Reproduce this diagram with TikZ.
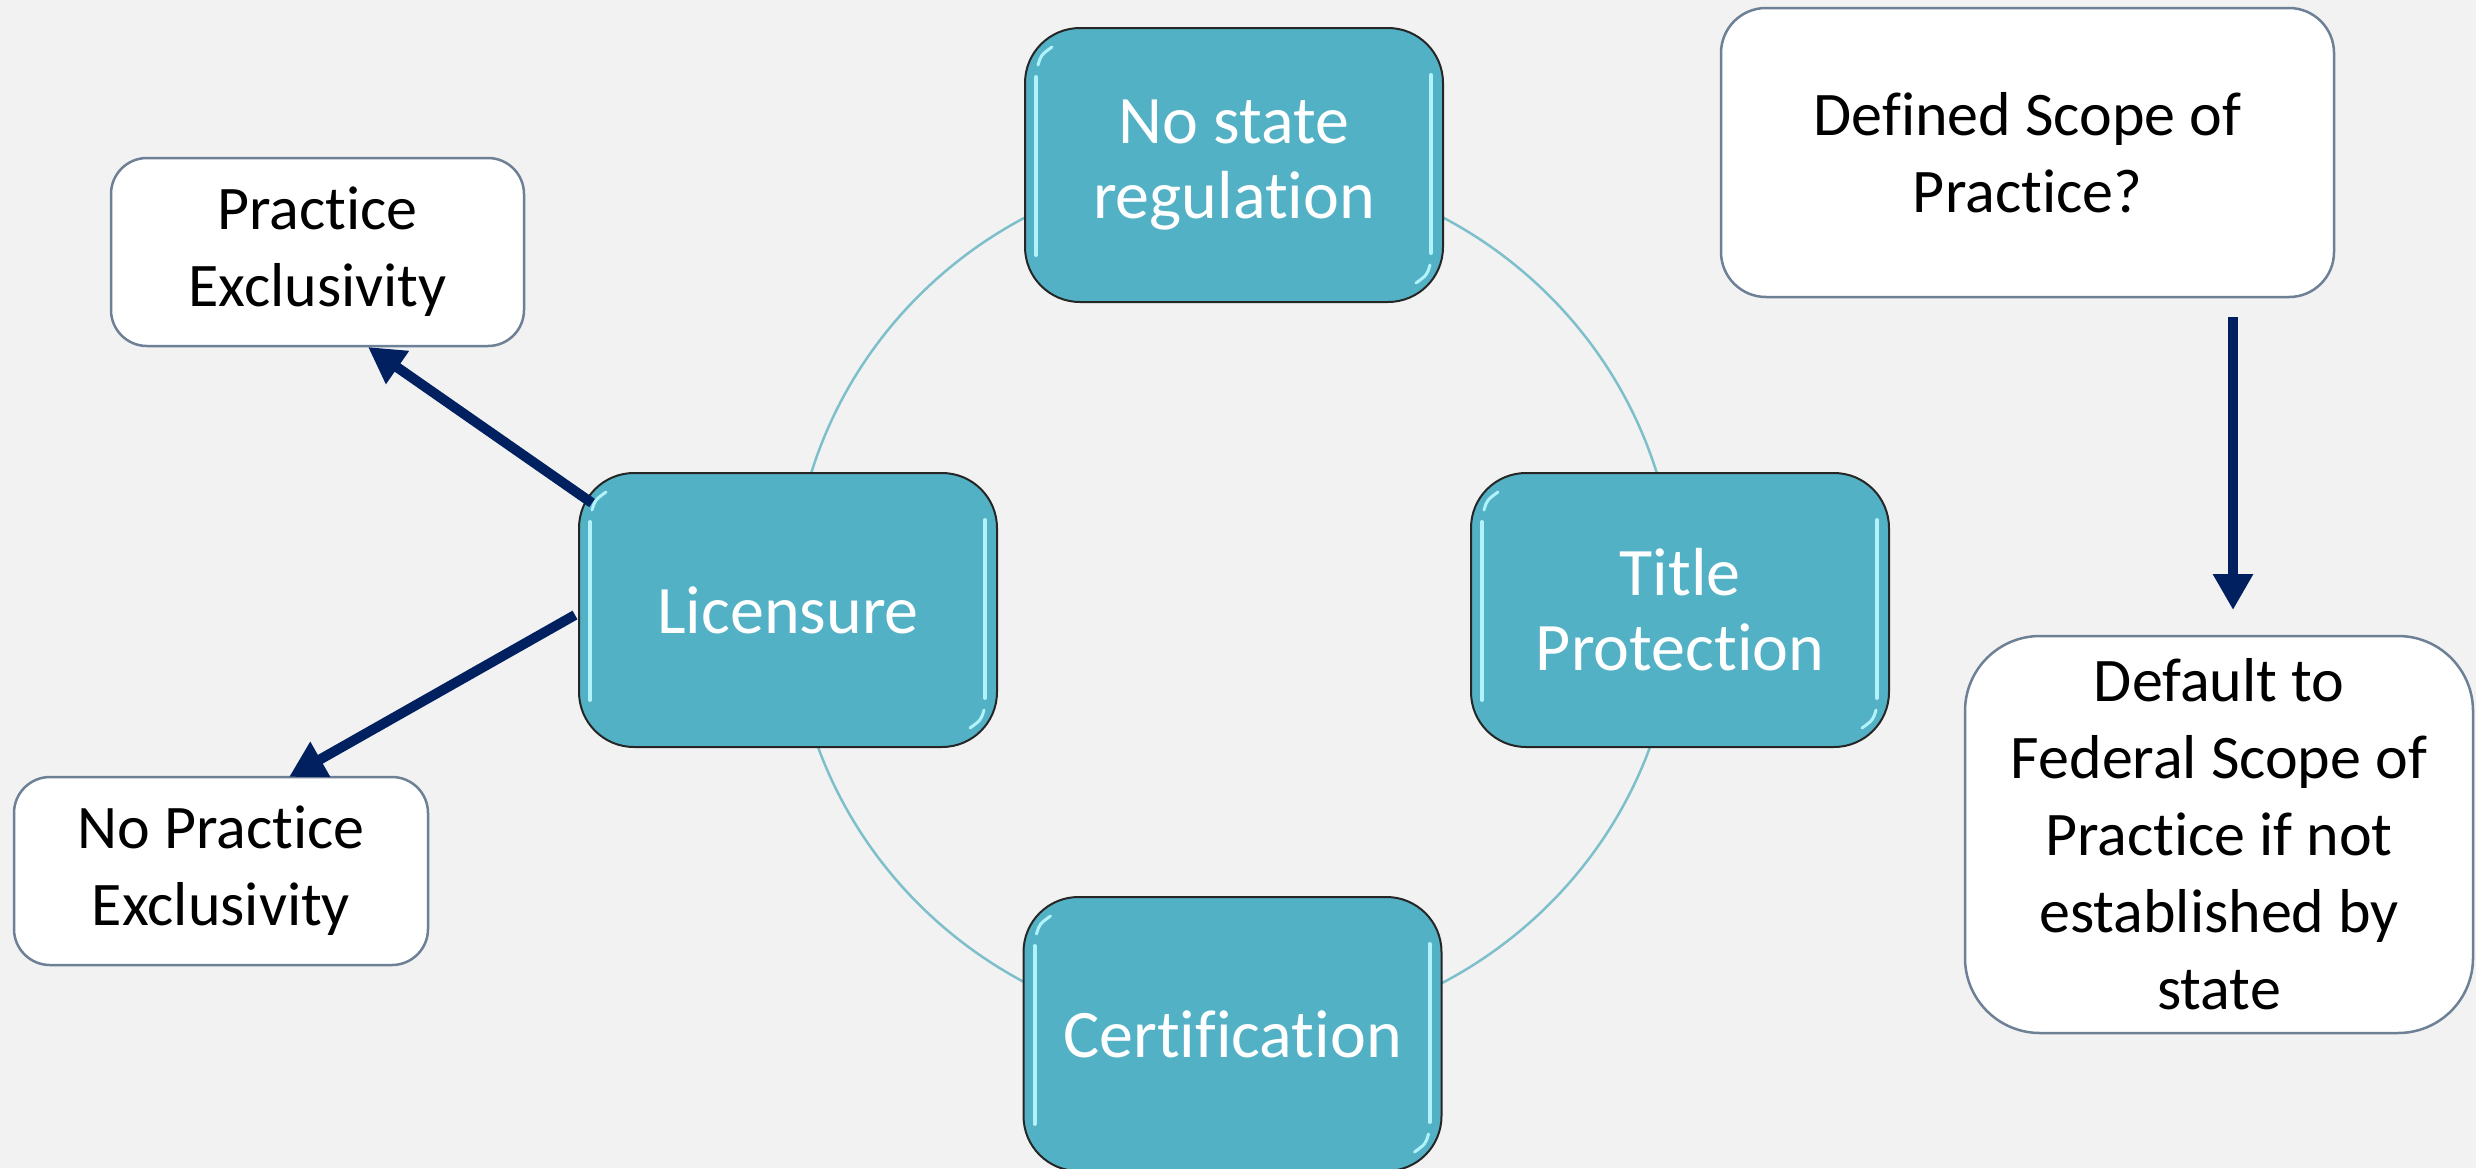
\documentclass[tikz,border=0pt]{standalone}
\usepackage{fontspec}
\setmainfont[Ligatures=NoCommon]{Carlito}
\usetikzlibrary{arrows.meta,calc}
\definecolor{bg}{HTML}{F2F2F2}
\definecolor{tealfill}{HTML}{53B1C5}
\definecolor{ring}{HTML}{7DBFCB}
\definecolor{navy}{HTML}{002060}
\definecolor{wborder}{HTML}{6E8096}
\definecolor{gloss}{HTML}{B2F2FA}
\begin{document}
\begin{tikzpicture}[x=1pt,y=-1pt,
  tealbox/.style={draw=black!85, line width=2pt, fill=tealfill, rounded corners=55pt,
    minimum width=418pt, minimum height=274pt, text=white, align=center,
    font=\fontsize{68}{75}\selectfont, inner sep=0pt},
  whitebox/.style={draw=wborder, line width=2.5pt, fill=white, align=center,
    font=\fontsize{62}{77}\selectfont, inner sep=0pt},
  arr/.style={draw=navy, line width=10pt, -{Triangle[width=38pt,length=36pt]}},
  glossline/.style={draw=gloss, line width=4pt, line cap=round}]
\fill[bg] (0,0) rectangle (2476,1168);
\useasboundingbox (0,0) rectangle (2476,1168);

% ring
\draw[ring, line width=2.5pt] (1234,600) ellipse [x radius=442, y radius=434];

% teal boxes
\node[tealbox] (nsr) at (1234,165) {No state\\regulation};
\node[tealbox] (lic) at (788,610) {Licensure};
\node[tealbox] (tp) at (1680,610) {Title\\Protection};
\node[tealbox] (cert) at (1232.5,1034) {Certification};

\foreach \n in {nsr,lic,tp,cert}{
  \draw[glossline] ($(\n.north west)+(12,50)$) -- ($(\n.south west)+(12,-48)$);
  \draw[glossline] ($(\n.north east)+(-13,48)$) -- ($(\n.south east)+(-13,-50)$);
  \draw[glossline, line width=3pt] ($(\n.north west)+(14,38)$) .. controls ($(\n.north west)+(17,28)$) .. ($(\n.north west)+(28,20)$);
  \draw[glossline, line width=3pt] ($(\n.south east)+(-14,-38)$) .. controls ($(\n.south east)+(-17,-28)$) .. ($(\n.south east)+(-28,-20)$);
}

% white boxes
\node[whitebox, rounded corners=36pt, minimum width=413pt, minimum height=188pt] (pe) at (317.5,252) {Practice\\Exclusivity};
\node[whitebox, rounded corners=36pt, minimum width=414pt, minimum height=188pt] (npe) at (221,871) {No Practice\\Exclusivity};
\node[whitebox, rounded corners=45pt, minimum width=613pt, minimum height=289pt] (dsp) at (2027.5,152.5) {Defined Scope of\\Practice?};
\node[whitebox, rounded corners=75pt, minimum width=508pt, minimum height=397pt] (dft) at (2219,834.5) {Default to\\Federal Scope of\\Practice if not\\established by\\state};

% arrows
\coordinate (a1s) at (592,503);
\coordinate (a1e) at (368,347);
\coordinate (a2s) at (575,615);
\coordinate (a2e) at (289,777);
\coordinate (a3s) at (2233,317);
\coordinate (a3e) at (2233,610);
\draw[arr] (a1s) -- (a1e);
\draw[arr] (a2s) -- (a2e);
\draw[arr] (a3s) -- (a3e);
\end{tikzpicture}
\end{document}
